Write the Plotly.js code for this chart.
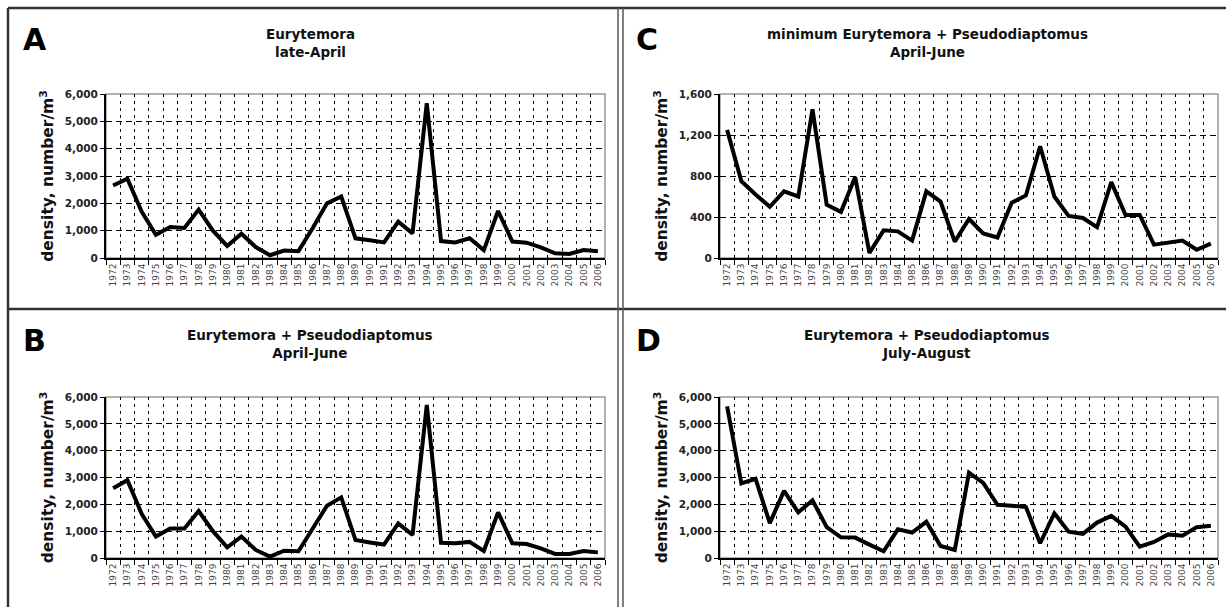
<!DOCTYPE html>
<html>
<head>
<meta charset="utf-8">
<script src="https://cdn.plot.ly/plotly-3.0.1.min.js"></script>
<style>
html,body{margin:0;padding:0;background:#fff;}
#chart{width:1226px;height:607px;}
</style>
</head>
<body>
<div id="chart"></div>
<script>
const years = ["1972","1973","1974","1975","1976","1977","1978","1979","1980","1981","1982","1983","1984","1985","1986","1987","1988","1989","1990","1991","1992","1993","1994","1995","1996","1997","1998","1999","2000","2001","2002","2003","2004","2005","2006"];
const seriesA = [2650,2900,1700,850,1130,1100,1770,1000,440,890,400,100,270,250,1100,2000,2250,720,650,570,1330,900,5660,620,570,720,290,1720,600,560,390,170,150,290,250];
const seriesB = [2600,2900,1650,800,1100,1100,1750,1000,400,800,300,50,270,250,1100,1950,2260,670,580,500,1290,860,5700,570,550,600,260,1700,550,520,360,150,150,260,210];
const seriesC = [1250,750,620,500,650,600,1450,520,450,790,50,270,260,170,650,550,160,380,240,200,540,610,1090,600,410,390,300,740,420,420,130,150,170,80,140];
const seriesD = [5650,2780,2950,1300,2500,1700,2150,1150,770,760,500,250,1070,950,1350,450,300,3180,2800,1980,1950,1900,550,1670,980,900,1320,1570,1170,420,600,880,830,1150,1200];
const letters = ["A","B","C","D"];
const titles = ["Eurytemora<br>late-April","Eurytemora + Pseudodiaptomus<br>April-June","minimum Eurytemora + Pseudodiaptomus<br>April-June","Eurytemora + Pseudodiaptomus<br>July-August"];
const yTitle = "density, number/m<sup>3</sup>";

const W = 1226, H = 607;
const px = x => x / W;
const py = y => 1 - y / H;

// plot boxes in pixels: [left, right, top, bottom]
const boxes = [[106,605,94,258],[106,605,397,558],[720,1218,94,258],[720,1218,397,558]];
const yRanges = [[0,6000,1000],[0,6000,1000],[0,1600,400],[0,6000,1000]];
const seriesList = [seriesA, seriesB, seriesC, seriesD];
const panelCenters = [[310,8],[310,309],[927,8],[927,309]];

const font = "DejaVu Sans, Verdana, sans-serif";
const traces = [];
const layout = {
  width: W, height: H,
  margin: {l:0, r:0, t:0, b:0},
  paper_bgcolor: "#fff", plot_bgcolor: "#fff",
  showlegend: false,
  font: {family: font, color: "#111"},
  annotations: [], shapes: []
};

for (let i = 0; i < 4; i++) {
  const n = i === 0 ? "" : String(i + 1);
  const b = boxes[i];
  const yr = yRanges[i];
  traces.push({
    type: "scatter", mode: "lines",
    x: years, y: seriesList[i],
    xaxis: "x" + n, yaxis: "y" + n,
    line: {color: "#000", width: 4},
    hoverinfo: "x+y"
  });
  layout["xaxis" + n] = {
    domain: [px(b[0]), px(b[1])],
    anchor: "y" + n,
    type: "category",
    range: [-0.5, 34.5],
    tickson: "boundaries",
    ticks: "outside", ticklen: 5, tickcolor: "#000", tickwidth: 1,
    showgrid: true, gridcolor: "#000", gridwidth: 1, griddash: "3px,4px",
    showline: true, linecolor: "#000", linewidth: 2,
    tickangle: -90,
    tickfont: {family: font, size: 9, color: "#444"},
    zeroline: false, fixedrange: true
  };
  layout["yaxis" + n] = {
    domain: [py(b[3]), py(b[2])],
    anchor: "x" + n,
    range: [yr[0], yr[1]], dtick: yr[2], tick0: 0,
    tickformat: ",d",
    ticks: "outside", ticklen: 4, tickcolor: "#000",
    showgrid: true, gridcolor: "#000", gridwidth: 1, griddash: "6px,4px",
    showline: true, linecolor: "#000", linewidth: 2,
    zeroline: false,
    tickfont: {family: font, size: 10.5, color: "#222", weight: "bold"},
    title: {text: yTitle, font: {family: font, size: 15.5, color: "#111", weight: "bold"}, standoff: 7},
    fixedrange: true
  };
  // gray plot-area frame (top/right)
  layout.shapes.push({type: "rect", xref: "x" + n + " domain", yref: "y" + n + " domain",
    x0: 0, x1: 1, y0: 0, y1: 1, line: {color: "#999", width: 1.5}, layer: "below"});
  // panel letter
  const pc = panelCenters[i];
  layout.annotations.push({
    text: "<b>" + letters[i] + "</b>", xref: "paper", yref: "paper",
    x: px(pc[0] < 600 ? 21 : 634), y: py(pc[1] + 12),
    xanchor: "left", yanchor: "top", showarrow: false,
    font: {family: font, size: 30, color: "#000"}
  });
  layout.annotations.push({
    text: "<b>" + titles[i] + "</b>", xref: "paper", yref: "paper",
    x: px(pc[0]), y: py(pc[1] + 16),
    xanchor: "center", yanchor: "top", showarrow: false,
    font: {family: font, size: 13.5, color: "#111"}
  });
}

// outer frames and dividers
const frameLine = {color: "#333", width: 2.5};
layout.shapes.push(
  {type: "line", xref: "paper", yref: "paper", x0: px(8), x1: 1, y0: py(8), y1: py(8), line: frameLine},
  {type: "line", xref: "paper", yref: "paper", x0: px(8), x1: px(8), y0: py(8), y1: 0, line: frameLine},
  {type: "line", xref: "paper", yref: "paper", x0: px(8), x1: 1, y0: py(309), y1: py(309), line: frameLine},
  {type: "line", xref: "paper", yref: "paper", x0: px(618), x1: px(618), y0: py(8), y1: 0, line: {color: "#555", width: 1.5}},
  {type: "line", xref: "paper", yref: "paper", x0: px(623), x1: px(623), y0: py(8), y1: 0, line: {color: "#555", width: 1.5}}
);

Plotly.newPlot("chart", traces, layout, {displayModeBar: false, staticPlot: true});
</script>
</body>
</html>
